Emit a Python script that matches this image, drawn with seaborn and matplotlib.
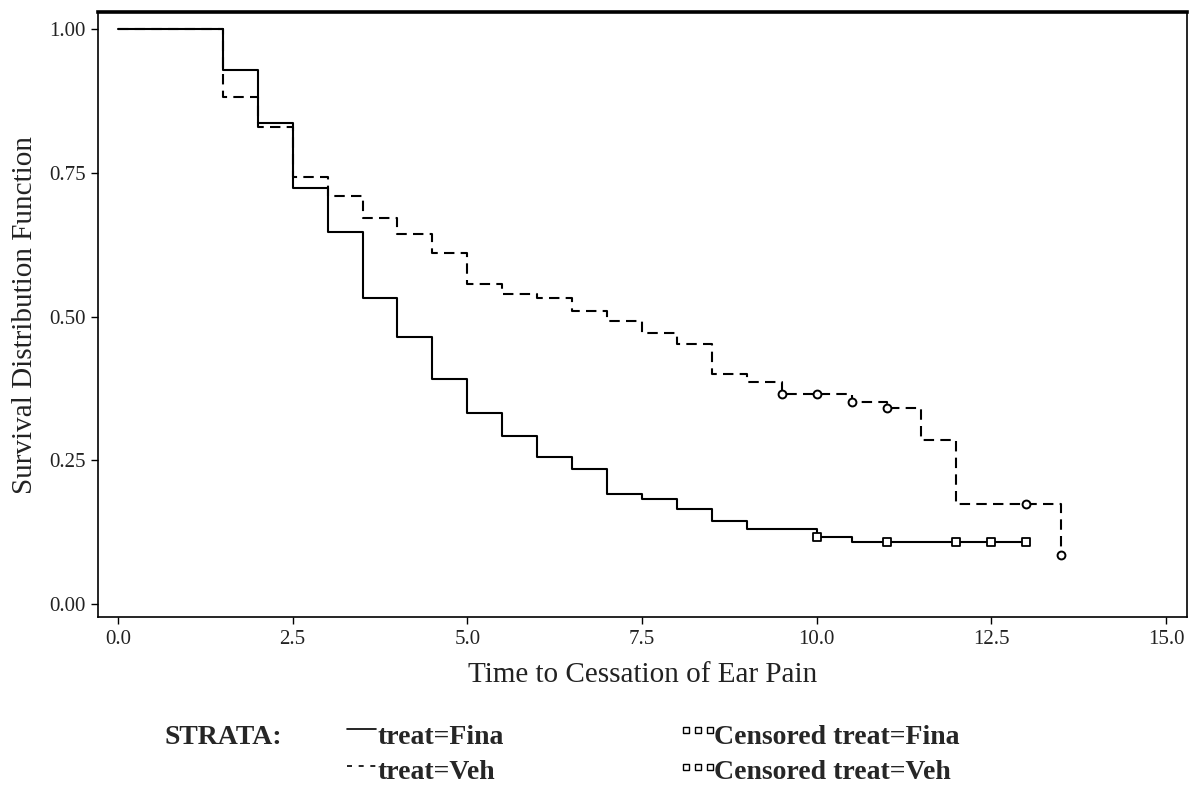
import matplotlib
matplotlib.use("Agg")
import matplotlib.pyplot as plt
import seaborn as sns
import pandas as pd
from matplotlib.lines import Line2D

# ---- data ----
fina_time = [0, 1.5, 2.0, 2.5, 3.0, 3.5, 4.0, 4.5, 5.0, 5.5, 6.0, 6.5, 7.0, 7.5,
             8.0, 8.5, 9.0, 10.0, 10.5, 13.0]
fina_surv = [1.0, 0.929, 0.836, 0.724, 0.647, 0.532, 0.465, 0.391, 0.333, 0.292,
             0.255, 0.234, 0.191, 0.182, 0.166, 0.144, 0.130, 0.116, 0.108, 0.108]
veh_time = [0, 1.5, 2.0, 2.5, 3.0, 3.5, 4.0, 4.5, 5.0, 5.5, 6.0, 6.5, 7.0, 7.5,
            8.0, 8.5, 9.0, 9.5, 10.5, 11.0, 11.5, 12.0, 13.5]
veh_surv = [1.0, 0.882, 0.830, 0.743, 0.710, 0.671, 0.643, 0.611, 0.557, 0.539,
            0.532, 0.510, 0.493, 0.471, 0.453, 0.400, 0.386, 0.366, 0.351, 0.341,
            0.285, 0.174, 0.085]
fina_cens_time = [10.0, 11.0, 12.0, 12.5, 13.0]
fina_cens_surv = [0.116, 0.108, 0.108, 0.108, 0.108]
veh_cens_time = [9.5, 10.0, 10.5, 11.0, 13.0, 13.5]
veh_cens_surv = [0.366, 0.366, 0.351, 0.341, 0.174, 0.085]

x_ticks = [0.0, 2.5, 5.0, 7.5, 10.0, 12.5, 15.0]
y_ticks = [0.00, 0.25, 0.50, 0.75, 1.00]
x_label = "Time to Cessation of Ear Pain"
y_label = "Survival Distribution Function"
strata_title = "STRATA:"
strata_labels = ["treat=Fina", "treat=Veh"]
censor_labels = ["Censored treat=Fina", "Censored treat=Veh"]

# ---- style ----
sns.set_style("ticks")
plt.rcParams['font.family'] = ['Liberation Serif', 'DejaVu Serif']

W, H = 1192, 785
fig = plt.figure(figsize=(W / 100, H / 100), dpi=100)
ax = fig.add_axes([98 / W, 1 - 617 / H, (1187 - 98) / W, (617 - 12) / H])

df_f = pd.DataFrame({"time": fina_time, "surv": fina_surv})
df_v = pd.DataFrame({"time": veh_time, "surv": veh_surv})

sns.lineplot(data=df_f, x="time", y="surv", ax=ax, color="black", lw=1.5,
             drawstyle="steps-post", estimator=None, sort=False)
sns.lineplot(data=df_v, x="time", y="surv", ax=ax, color="black", lw=1.5,
             drawstyle="steps-post", estimator=None, sort=False,
             linestyle=(0, (5, 3)))

sns.scatterplot(x=fina_cens_time, y=fina_cens_surv, ax=ax, marker="s", s=28,
                facecolor="white", edgecolor="black", linewidth=1.3, zorder=5)
sns.scatterplot(x=veh_cens_time, y=veh_cens_surv, ax=ax, marker="o", s=32,
                facecolor="white", edgecolor="black", linewidth=1.4, zorder=5)

ax.set_xlim(-20 / 69.87, 15.30)
ax.set_ylim(-13 / 575, 1 + 17 / 575)
ax.set_xticks(x_ticks)
ax.set_xticklabels([f"{v:.1f}" for v in x_ticks])
ax.set_yticks(y_ticks)
ax.set_yticklabels([f"{v:.2f}" for v in y_ticks])
ax.tick_params(axis="both", direction="out", length=5, width=1.0, color="black",
               labelsize=15, pad=4, labelcolor="#222222")
for side in ["left", "right", "bottom"]:
    ax.spines[side].set_linewidth(1.2)
    ax.spines[side].set_color("black")
ax.spines["top"].set_linewidth(2.6)
ax.spines["top"].set_color("black")
ax.set_xlabel(x_label, fontsize=21, labelpad=10, color="#222222")
ax.set_ylabel(y_label, fontsize=21, labelpad=8, color="#222222")

# ---- legend drawn at the bottom ----
def fx(px):
    return px / W

def fy(py):
    return 1 - py / H

fig.text(fx(165), fy(744), strata_title, fontsize=20, fontweight="bold",
         va="baseline", ha="left")
row_base = [744, 779]
row_mark = [729, 766]
for i, lab in enumerate(strata_labels):
    fig.text(fx(378), fy(row_base[i]), lab, fontsize=20, fontweight="bold",
             va="baseline", ha="left")
    ls = "-" if i == 0 else (0, (3, 4))
    fig.add_artist(Line2D([fx(347), fx(376)], [fy(row_mark[i])] * 2,
                          transform=fig.transFigure, color="black", lw=1.2,
                          linestyle=ls))
for i, lab in enumerate(censor_labels):
    fig.text(fx(714), fy(row_base[i]), lab, fontsize=20, fontweight="bold",
             va="baseline", ha="left")
    fig.add_artist(Line2D([fx(686), fx(698), fx(710)], [fy(row_mark[i] + 1)] * 3,
                          transform=fig.transFigure, color="black", lw=0,
                          marker="s", markersize=4, markerfacecolor="white",
                          markeredgecolor="black", markeredgewidth=1.0))

fig.savefig("out.png", dpi=100)
